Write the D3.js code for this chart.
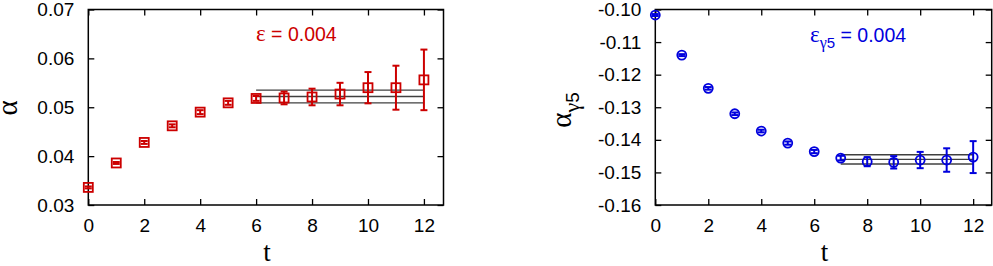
<!DOCTYPE html>
<html lang="en">
<head>
<meta charset="UTF-8">
<title>alpha vs t</title>
<script src="https://cdn.jsdelivr.net/npm/d3@7/dist/d3.min.js"></script>
<style>
  body { margin: 0; background: #fff; }
</style>
</head>
<body>
<script>
    // values
    var tValues = [0, 1, 2, 3, 4, 5, 6, 7, 8, 9, 10, 11, 12];
    var xTicks = [0, 2, 4, 6, 8, 10, 12];

    var alphaValues = [0.0336, 0.0386, 0.0428, 0.0462, 0.0490, 0.0509, 0.0518,
        0.0519, 0.0521, 0.0527, 0.0540, 0.0540, 0.0556];
    var alphaErrors = [0.0002, 0.0002, 0.0003, 0.0003, 0.0004, 0.0004, 0.0005,
        0.0013, 0.0017, 0.0023, 0.0032, 0.0045, 0.0062];
    var alphaFit = {from: 6, to: 12, value: 0.0522, error: 0.0013};
    var alphaTicks = [0.03, 0.04, 0.05, 0.06, 0.07];

    var alpha5Values = [-0.1017, -0.1140, -0.1242, -0.1320, -0.1373, -0.1410, -0.1436,
        -0.1456, -0.1467, -0.1469, -0.1462, -0.1462, -0.1453];
    var alpha5Errors = [0.0003, 0.0003, 0.0004, 0.0004, 0.0004, 0.0005, 0.0005,
        0.0007, 0.0014, 0.0019, 0.0025, 0.0036, 0.0049];
    var alpha5Fit = {from: 7, to: 12, value: -0.1460, error: 0.0014};
    var alpha5Ticks = [-0.16, -0.15, -0.14, -0.13, -0.12, -0.11, -0.10];

    var SANS = "Liberation Sans, Arial, sans-serif";
    var SERIF = "Liberation Serif, DejaVu Serif, Times New Roman, serif";

    var svg = d3.select("body").append("svg")
        .attr("width", 993)
        .attr("height", 266);

    function panel(opt) {
        var x = d3.scaleLinear().domain([0, 12.7]).range([opt.left, opt.right]);
        var y = d3.scaleLinear().domain(opt.yDomain).range([205, 9.5]);
        var g = svg.append("g");

        // ticks on all four sides, pointing in
        g.append("g").attr("transform", "translate(0,205)")
            .call(d3.axisBottom(x).tickValues(xTicks).tickSizeInner(-6).tickSizeOuter(0).tickPadding(14))
            .call(function (a) { a.select(".domain").remove(); });
        g.append("g").attr("transform", "translate(0,9.5)")
            .call(d3.axisTop(x).tickValues(xTicks).tickSizeInner(-6).tickSizeOuter(0).tickFormat(""))
            .call(function (a) { a.select(".domain").remove(); });
        g.append("g").attr("transform", "translate(" + opt.left + ",0)")
            .call(d3.axisLeft(y).tickValues(opt.yTicks).tickSizeInner(-6).tickSizeOuter(0)
                .tickPadding(14).tickFormat(opt.fmt))
            .call(function (a) { a.select(".domain").remove(); });
        g.append("g").attr("transform", "translate(" + opt.right + ",0)")
            .call(d3.axisRight(y).tickValues(opt.yTicks).tickSizeInner(-6).tickSizeOuter(0).tickFormat(""))
            .call(function (a) { a.select(".domain").remove(); });

        g.selectAll(".tick line").attr("stroke", "#000").attr("stroke-width", 1.3);
        g.selectAll(".tick text").attr("fill", "#000")
            .attr("font-size", 19).attr("font-family", SANS);

        g.append("rect")
            .attr("x", opt.left).attr("y", 9.5)
            .attr("width", opt.right - opt.left).attr("height", 205 - 9.5)
            .attr("fill", "none").attr("stroke", "#000").attr("stroke-width", 1.5);

        // fit band
        var f = opt.fit;
        g.selectAll(".fit")
            .data([f.value + f.error, f.value, f.value - f.error])
            .enter().append("line")
            .attr("x1", x(f.from)).attr("x2", x(f.to))
            .attr("y1", function (d) { return y(d); })
            .attr("y2", function (d) { return y(d); })
            .attr("stroke", "#404040").attr("stroke-width", 1.4);

        var pts = tValues.map(function (t, i) {
            return {t: t, v: opt.values[i], e: opt.errors[i]};
        });

        // error bars
        var eb = g.selectAll(".eb").data(pts).enter().append("g")
            .attr("stroke", opt.color).attr("stroke-width", 2);
        eb.append("line")
            .attr("x1", function (d) { return x(d.t); })
            .attr("x2", function (d) { return x(d.t); })
            .attr("y1", function (d) { return y(d.v + d.e); })
            .attr("y2", function (d) { return y(d.v - d.e); });
        [1, -1].forEach(function (s) {
            eb.append("line")
                .attr("x1", function (d) { return x(d.t) - 3.5; })
                .attr("x2", function (d) { return x(d.t) + 3.5; })
                .attr("y1", function (d) { return y(d.v + s * d.e); })
                .attr("y2", function (d) { return y(d.v + s * d.e); });
        });

        // markers
        if (opt.marker === "square") {
            g.selectAll(".pt").data(pts).enter().append("rect")
                .attr("x", function (d) { return x(d.t) - 4.5; })
                .attr("y", function (d) { return y(d.v) - 4.5; })
                .attr("width", 9).attr("height", 9)
                .attr("fill", "none").attr("stroke", opt.color).attr("stroke-width", 1.8);
        } else {
            g.selectAll(".pt").data(pts).enter().append("circle")
                .attr("cx", function (d) { return x(d.t); })
                .attr("cy", function (d) { return y(d.v); })
                .attr("r", 4.5)
                .attr("fill", "none").attr("stroke", opt.color).attr("stroke-width", 1.8);
        }

        // x axis title
        svg.append("text")
            .attr("x", (opt.left + opt.right) / 2 + 1).attr("y", 261)
            .attr("text-anchor", "middle")
            .attr("font-family", SERIF).attr("font-size", 27)
            .text("t");

        return {x: x, y: y};
    }

    panel({left: 88.3, right: 443.5, yDomain: [0.03, 0.07], yTicks: alphaTicks,
        fmt: d3.format(".2f"), values: alphaValues, errors: alphaErrors, fit: alphaFit,
        color: "#cc0000", marker: "square"});

    panel({left: 655.3, right: 991.7, yDomain: [-0.16, -0.10], yTicks: alpha5Ticks,
        fmt: function (d) { return d3.format(".2f")(d).replace("−", "-"); },
        values: alpha5Values, errors: alpha5Errors, fit: alpha5Fit,
        color: "#0000dd", marker: "circle"});

    // y labels (rotated)
    svg.append("text")
        .attr("transform", "translate(17,108) rotate(-90)")
        .attr("text-anchor", "middle")
        .attr("font-family", SERIF).attr("font-size", 29)
        .text("α");

    var yl = svg.append("text")
        .attr("transform", "translate(571,110) rotate(-90)")
        .attr("text-anchor", "middle")
        .attr("font-family", SERIF).attr("font-size", 29);
    yl.append("tspan").text("α");
    yl.append("tspan").attr("dy", 8).attr("font-size", 22).text("γ");
    yl.append("tspan").attr("font-size", 19).attr("font-family", SANS).text("5");

    // annotations
    var a1 = svg.append("text").attr("x", 256).attr("y", 41)
        .attr("fill", "#cc0000").attr("font-family", SANS).attr("font-size", 19.5);
    a1.append("tspan").attr("font-family", SERIF).attr("font-size", 23).text("ε");
    a1.append("tspan").text(" = 0.004");

    var a2 = svg.append("text").attr("x", 810).attr("y", 41.5)
        .attr("fill", "#0000dd").attr("font-family", SANS).attr("font-size", 19.5);
    a2.append("tspan").attr("font-family", SERIF).attr("font-size", 23).text("ε");
    a2.append("tspan").attr("dy", 6).attr("font-size", 16)
        .attr("font-family", SERIF).text("γ");
    a2.append("tspan").attr("font-size", 15).text("5");
    a2.append("tspan").attr("dy", -6).text(" = 0.004");
</script>
</body>
</html>
